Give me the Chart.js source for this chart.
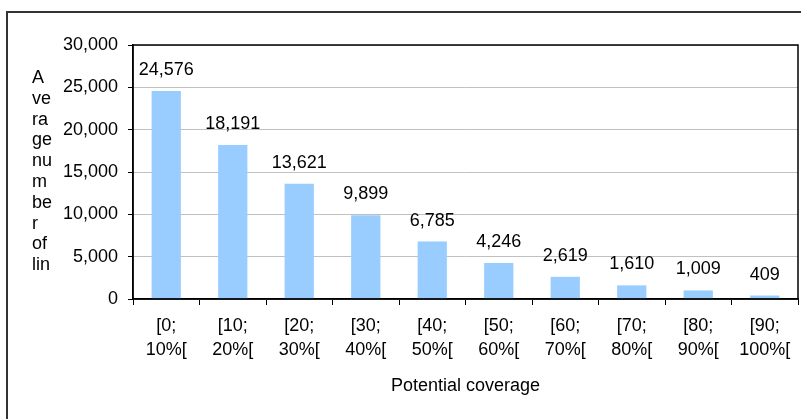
<!DOCTYPE html>
<html lang="en">
<head>
    <meta charset="UTF-8">
    <title>Average number of lines by potential coverage</title>
    <script src="https://cdn.jsdelivr.net/npm/chart.js"></script>
    <style>
        body, html {
            margin: 0;
            padding: 0;
            width: 100%;
            height: 100%;
            overflow: hidden;
            background: #fff;
        }
        #wrap { width: 801px; height: 419px; }
    </style>
</head>
<body>
    <div id="wrap"><canvas id="coverageChart"></canvas></div>

    <script>
        const categories = [
            ['[0;', '10%['], ['[10;', '20%['], ['[20;', '30%['], ['[30;', '40%['], ['[40;', '50%['],
            ['[50;', '60%['], ['[60;', '70%['], ['[70;', '80%['], ['[80;', '90%['], ['[90;', '100%[']
        ];
        const avgLines = [24576, 18191, 13621, 9899, 6785, 4246, 2619, 1610, 1009, 409];
        const yTitleLines = ['A', 've', 'ra', 'ge', 'nu', 'm', 'be', 'r', 'of', 'lin'];

        const FONT = "'Liberation Sans', Arial, sans-serif";
        Chart.defaults.font.family = FONT;
        Chart.defaults.font.size = 18;
        Chart.defaults.color = '#000';

        // outer frame + plot border + y title drawn by hand
        const decorations = {
            id: 'decorations',
            beforeDraw(chart) {
                const ctx = chart.ctx;
                ctx.save();
                ctx.strokeStyle = '#333';
                ctx.lineWidth = 2;
                ctx.beginPath();
                ctx.moveTo(7, 419);
                ctx.lineTo(7, 12);
                ctx.lineTo(801, 12);
                ctx.stroke();
                ctx.restore();
            },
            afterDraw(chart) {
                const ctx = chart.ctx;
                const a = chart.chartArea;
                ctx.save();
                ctx.strokeStyle = '#000';
                ctx.lineWidth = 1.5;
                ctx.strokeRect(a.left, a.top, a.right - a.left, a.bottom - a.top);
                ctx.fillStyle = '#000';
                ctx.font = '18px ' + FONT;
                ctx.textAlign = 'left';
                ctx.textBaseline = 'alphabetic';
                yTitleLines.forEach((t, i) => ctx.fillText(t, 32, 83 + i * 20.8));
                ctx.restore();
            },
            afterDatasetsDraw(chart) {
                const ctx = chart.ctx;
                ctx.save();
                ctx.fillStyle = '#000';
                ctx.font = '18px ' + FONT;
                ctx.textAlign = 'center';
                ctx.textBaseline = 'alphabetic';
                chart.getDatasetMeta(0).data.forEach((bar, i) => {
                    ctx.fillText(avgLines[i].toLocaleString('en-US'), bar.x, bar.y - 16);
                });
                ctx.restore();
            }
        };

        new Chart(document.getElementById('coverageChart'), {
            type: 'bar',
            data: {
                labels: categories,
                datasets: [{
                    data: avgLines,
                    backgroundColor: '#99CCFF',
                    borderWidth: 0,
                    barPercentage: 0.44,
                    categoryPercentage: 1.0
                }]
            },
            options: {
                responsive: true,
                maintainAspectRatio: false,
                animation: false,
                layout: { padding: { top: 45, right: 3, left: 0, bottom: 0 } },
                plugins: {
                    legend: { display: false },
                    tooltip: { enabled: false }
                },
                scales: {
                    x: {
                        afterFit: s => { s.height = 120; },
                        grid: { drawOnChartArea: false, tickLength: 6, tickColor: '#000', offset: true },
                        border: { color: '#000', width: 1.5 },
                        ticks: { padding: 10, maxRotation: 0, font: { size: 18, lineHeight: 1.28 } },
                        title: { display: true, text: 'Potential coverage', font: { size: 18 }, padding: { top: 0, bottom: 22 } }
                    },
                    y: {
                        afterFit: s => { s.width = 133; },
                        min: 0,
                        max: 30000,
                        grid: { color: '#c0c0c0', tickLength: 5, tickColor: '#000' },
                        border: { color: '#000', width: 1.5 },
                        ticks: {
                            stepSize: 5000,
                            padding: 10,
                            callback: v => v.toLocaleString('en-US')
                        }
                    }
                }
            },
            plugins: [decorations]
        });
    </script>
</body>
</html>
